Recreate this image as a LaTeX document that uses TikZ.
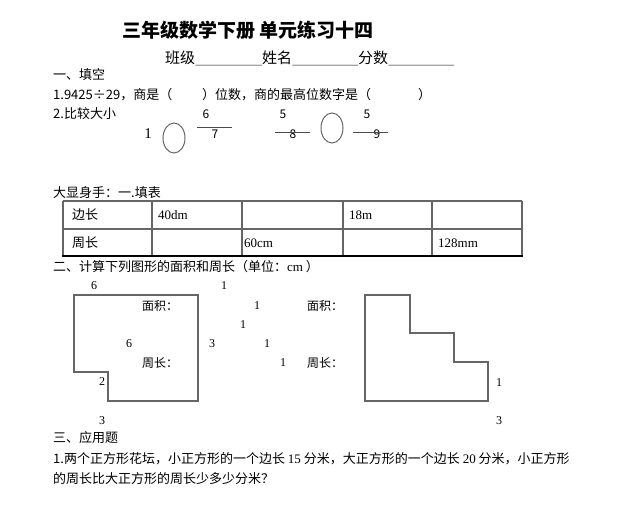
\documentclass[tikz,border=0pt]{standalone}
\usepackage{fontspec}
\setmainfont{Liberation Serif}
\newfontfamily\cjk{Noto Sans CJK SC}
\usetikzlibrary{positioning,shapes.geometric}

\tikzset{
  txt/.style={anchor=west,inner sep=0pt,font=\cjk\fontsize{13}{13}\selectfont},
  lbl/.style={inner sep=0pt,font=\cjk\fontsize{12}{12}\selectfont},
  num/.style={inner sep=0pt,font=\fontsize{12}{12}\selectfont},
  cell/.style={anchor=west,inner sep=0pt,font=\fontsize{13}{13}\selectfont},
  oval/.style={draw=black!60,line width=1pt,ellipse,minimum width=22pt,minimum height=30pt},
  rule/.style={draw=black!60,line width=1.2pt},
  bar/.style={draw=black!70,line width=1pt}
}

\begin{document}
\begin{tikzpicture}[x=1pt,y=-1pt]
	\useasboundingbox (0,0) rectangle (633,521);
	\node[anchor=west,inner sep=0pt,font=\cjk\bfseries\fontsize{19}{19}\selectfont] (title) at (122,30) {三年级数学下册 单元练习十四};

	% name, class, score
	\node[txt,font=\cjk\fontsize{15}{15}\selectfont] (cls) at (165,58) {班级};
	\node[txt,font=\cjk\fontsize{15}{15}\selectfont] (nm) at (262,58) {姓名};
	\node[txt,font=\cjk\fontsize{15}{15}\selectfont] (sc) at (358,58) {分数};
	\coordinate (scend) at (454,66);
	\draw (cls.south east) -- (nm.south west)
	      (nm.south east) -- (sc.south west)
	      (sc.south east) -- (sc.south east -| scend);

	% part one
	\node[txt] (sec1) at (53,75) {一、填空};
	\node[txt] (q1) at (53,95) {1.9425÷29，商是（\hspace{2.3em}）位数，商的最高位数字是（\hspace{3.6em}）};
	\node[txt] (q2) at (53,114) {2.比较大小};
	\node[inner sep=0pt,font=\fontsize{15}{15}\selectfont] (one) at (148,134) {1};
	\node[oval] (o1) at (174,138) {};
	\node[lbl] (a6) at (206,114) {6};
	\draw[bar] (197,128) -- (232,128);
	\node[lbl] (a7) at (215,134) {7};
	\node[lbl] (b5) at (283,114) {5};
	\node[lbl] (b8) at (293,134) {8};
	\draw[bar] (275,133) -- (310,133);
	\node[oval] (o2) at (332,128) {};
	\node[lbl] (c5) at (367,114) {5};
	\node[lbl] (c9) at (377,134) {9};
	\draw[bar] (353,133) -- (388,133);

	% table
	\node[txt] (tab) at (53,193) {大显身手：一.填表};
	\foreach \x in {63,152,242,343,432,522}
		\draw[rule] (\x,201) -- (\x,256);
	\draw[rule] (63,201) -- (522,201) (63,229) -- (522,229);
	\draw[line width=1.2pt] (62,256) -- (523,256);
	\node[txt] (side) at (72,215) {边长};
	\node[cell] (s1) at (158,215) {40dm};
	\node[cell] (s3) at (349,215) {18m};
	\node[txt] (per) at (72,243) {周长};
	\node[cell] (p2) at (244,243) {60cm};
	\node[cell] (p4) at (438,243) {128mm};

	% part two
	\node[txt] (sec2) at (53,267) {二、计算下列图形的面积和周长（单位：{\rmfamily cm} ）};
	\draw[rule] (74,295) -- (198,295) -- (198,401) -- (108,401) -- (108,372) -- (74,372) -- cycle;
	\node[num] (l6) at (94,286) {6};
	\node[num] (l1) at (224,286) {1};
	\node[num] (m6) at (129,344) {6};
	\node[num] (r3) at (212,344) {3};
	\node[num] (n2) at (102,382) {2};
	\node[num] (b3) at (102,421) {3};
	\node[num] (k1) at (257,306) {1};
	\node[num] (k2) at (243,325) {1};
	\node[num] (k3) at (267,344) {1};
	\node[num] (k4) at (283,363) {1};
	\node[lbl,anchor=west] (ar1) at (142,306) {面积：};
	\node[lbl,anchor=west] (pm1) at (142,363) {周长：};
	\node[lbl,anchor=west] (ar2) at (307,306) {面积：};
	\node[lbl,anchor=west] (pm2) at (307,363) {周长：};
	\draw[rule] (365,295) -- (410,295) -- (410,333) -- (454,333) -- (454,362) -- (488,362) -- (488,401) -- (365,401) -- cycle;
	\node[num] (e1) at (499,383) {1};
	\node[num] (e3) at (499,421) {3};

	% part three
	\node[txt] (sec3) at (53,438) {三、应用题};
	\node[txt] (w1) at (53,459) {1.两个正方形花坛，小正方形的一个边长 {\rmfamily 15} 分米，大正方形的一个边长 {\rmfamily 20} 分米，小正方形};
	\node[txt] (w2) at (53,479) {的周长比大正方形的周长少多少分米？};
\end{tikzpicture}
\end{document}
